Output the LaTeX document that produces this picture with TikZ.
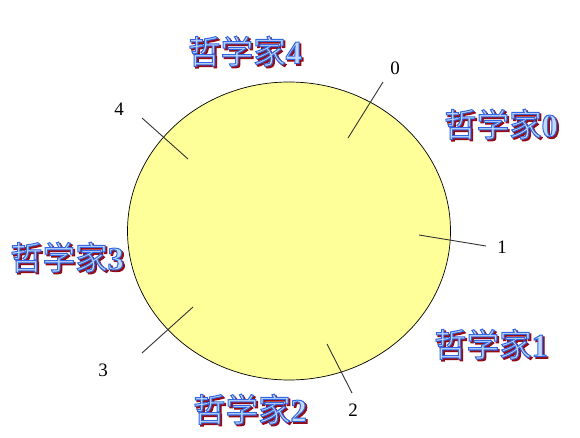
\documentclass[tikz,border=0pt]{standalone}
\usepackage{fontspec}
\setmainfont{Liberation Serif}
\newfontfamily\cjk{Noto Sans CJK SC}
\usetikzlibrary{shapes.geometric}
\definecolor{tablefill}{RGB}{255,255,153}
\definecolor{fillblue}{RGB}{190,218,252}
\definecolor{shadowred}{RGB}{150,10,20}
\newcommand\artword[1]{%
  \makebox[0pt][l]{\kern1.7pt\raisebox{-1.7pt}{\color{shadowred}%
    \special{pdf:literal direct 2 Tr 1.1 w 0.59 0.04 0.08 RG}#1%
    \special{pdf:literal direct 0 Tr}}}%
  {\color{fillblue}%
    \special{pdf:literal direct 2 Tr 1.0 w 0.2 0.4 0.88 RG}#1%
    \special{pdf:literal direct 0 Tr}}}
\newcommand\phil[1]{\artword{{\cjk 哲学家}{\bfseries #1}}}
\tikzset{
  philo/.style={inner sep=0pt, font=\fontsize{32.5}{35}\selectfont},
  num/.style={inner sep=0pt, font=\fontsize{19}{22}\selectfont},
  stick/.style={draw=black!80, line width=0.9pt},
  tablestyle/.style={ellipse, draw=black, line width=0.7pt, fill=tablefill,
    minimum width=323pt, minimum height=298pt, inner sep=0pt}
}
\begin{document}
\begin{tikzpicture}[x=1pt,y=-1pt]
\useasboundingbox (0,0) rectangle (580,438);
\node[tablestyle] (table) at (289,231) {};
% chopsticks
\coordinate (s0a) at (348,138); \coordinate (s0b) at (383,82);
\coordinate (s1a) at (419,235); \coordinate (s1b) at (486,246);
\coordinate (s2a) at (327,344); \coordinate (s2b) at (352,393);
\coordinate (s3a) at (193,307); \coordinate (s3b) at (142,353);
\coordinate (s4a) at (188,159); \coordinate (s4b) at (142,118);
\draw[stick] (s0a) -- (s0b);
\draw[stick] (s1a) -- (s1b);
\draw[stick] (s2a) -- (s2b);
\draw[stick] (s3a) -- (s3b);
\draw[stick] (s4a) -- (s4b);
% numbers
\node[num] (n0) at (395,68) {0};
\node[num] (n1) at (502,247) {1};
\node[num] (n2) at (353,410) {2};
\node[num] (n3) at (103,370) {3};
\node[num] (n4) at (119,109) {4};
% philosophers
\node[philo] (p4) at (245,52) {\phil{4}};
\node[philo] (p0) at (501,125) {\phil{0}};
\node[philo] (p1) at (491,345) {\phil{1}};
\node[philo] (p2) at (250,410) {\phil{2}};
\node[philo] (p3) at (67,258) {\phil{3}};
\end{tikzpicture}
\end{document}
